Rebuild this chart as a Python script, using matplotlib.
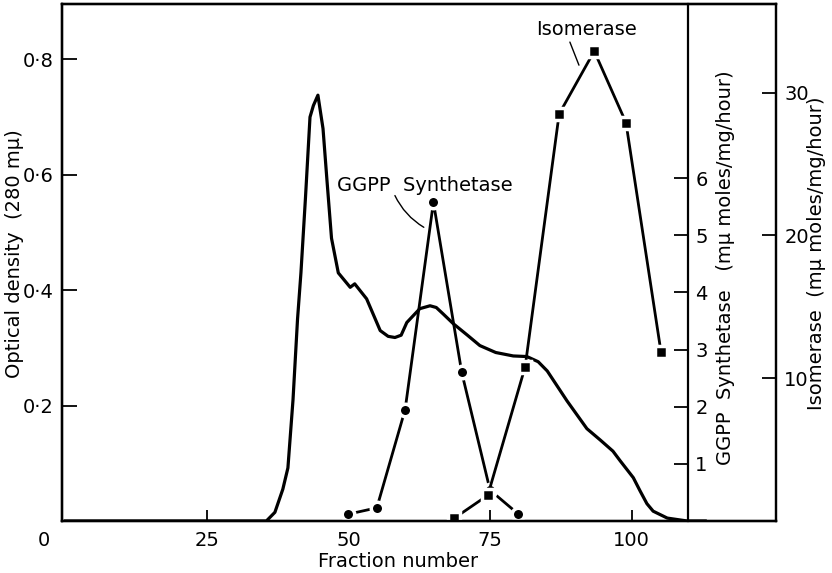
import numpy as np
import matplotlib
matplotlib.use('Agg')
import matplotlib.pyplot as plt

plt.rc('font', family='DejaVu Sans', size=14)

# optical density (280 mu) along the column
od_frac = [0, 35.5, 37.0, 38.4, 39.3, 40.2, 41.0, 41.6, 42.4, 43.2, 43.8, 44.6,
           45.5, 46.2, 47.0, 48.2, 50.3, 51.1, 53.2, 55.6, 57.0, 58.2, 59.3,
           60.3, 62.6, 64.4, 65.5, 66.7, 68.5, 71.0, 73.2, 76.0, 79.1, 81.5,
           83.5, 85.1, 88.6, 92.1, 94.5, 96.7, 98.0, 100.3, 101.5, 102.7,
           103.8, 106.3, 109.8, 113.0]
od_val = [0, 0, 0.015, 0.055, 0.092, 0.21, 0.35, 0.43, 0.56, 0.70, 0.72, 0.738,
          0.68, 0.59, 0.49, 0.43, 0.405, 0.411, 0.385, 0.33, 0.32, 0.318, 0.322,
          0.344, 0.368, 0.373, 0.37, 0.359, 0.342, 0.322, 0.304, 0.292, 0.286,
          0.285, 0.276, 0.26, 0.208, 0.16, 0.14, 0.121, 0.104, 0.075, 0.052,
          0.03, 0.017, 0.005, 0.0, 0.0]

# GGPP synthetase activity (circles)
ggpp_frac = [50, 55, 60, 65, 70, 75, 80]
ggpp_act = [0.12, 0.23, 1.95, 5.58, 2.6, 0.54, 0.12]

# isomerase activity (squares)
iso_frac = [68.7, 74.6, 81.2, 87.2, 93.4, 99.0, 105.2]
iso_act = [0.2, 1.8, 10.8, 28.5, 32.9, 27.9, 11.8]

od_ticks = [0.2, 0.4, 0.6, 0.8]
od_labels = ['0·2', '0·4', '0·6', '0·8']
frac_ticks = [25, 50, 75, 100]
ggpp_ticks = [1, 2, 3, 4, 5, 6]
iso_ticks = [10, 20, 30]

fig = plt.figure(figsize=(8.32, 5.73), dpi=100)
ax = fig.add_axes([0.0745, 0.0908, 0.8582, 0.9022])
ax2 = ax.twinx()
ax3 = ax.twinx()

ax.set_xlim(-0.6, 125.5)
ax.set_ylim(0, 0.896)
ax2.set_ylim(0, 9.05)
ax3.set_ylim(0, 36.2)

for a in (ax, ax2, ax3):
    for s in a.spines.values():
        s.set_linewidth(1.6)

ax.plot(od_frac, od_val, color='k', lw=2.3, solid_joinstyle='round')

ax2.plot(ggpp_frac, ggpp_act, color='k', lw=2.0, marker='o', ms=9,
         mfc='k', mec='white', mew=2.5)
ax3.plot(iso_frac, iso_act, color='k', lw=2.0, marker='s', ms=8.5,
         mfc='k', mec='white', mew=2.5)

# left / bottom axes
ax.set_xticks(frac_ticks)
ax.set_xticklabels([str(t) for t in frac_ticks])
ax.set_yticks(od_ticks)
ax.set_yticklabels(od_labels)
ax.tick_params(axis='x', direction='in', length=8, width=1.3, pad=7)
ax.tick_params(axis='y', direction='in', length=11, width=1.3, pad=6,
               right=False)
ax.text(-0.025, -0.02, '0', transform=ax.transAxes, ha='center', va='top',
        fontsize=14)
ax.text(-0.067, 0.518, 'Optical density  (280 m\u03bc)', transform=ax.transAxes,
        rotation=90, ha='center', va='center')
ax.text(0.47, -0.06, 'Fraction number', transform=ax.transAxes,
        ha='center', va='top')

# GGPP synthetase scale on an inner spine
ax2.spines['right'].set_position(('data', 110))
ax2.set_yticks(ggpp_ticks)
ax2.tick_params(axis='y', direction='in', length=10, width=1.3, pad=5)
ax2.text(0.9286, 0.489, 'GGPP  Synthetase   (m\u03bc moles/mg/hour)',
         transform=ax2.transAxes, rotation=90, ha='center', va='center')

# isomerase scale on the outer spine
ax3.set_yticks(iso_ticks)
ax3.tick_params(axis='y', direction='in', length=10, width=1.3, pad=6)
ax3.text(1.057, 0.518, 'Isomerase  (m\u03bc moles/mg/hour)',
         transform=ax3.transAxes, rotation=90, ha='center', va='center')

# curve labels with leader lines
ax.text(48.0, 0.582, 'GGPP  Synthetase', ha='left', va='center')
ax.annotate('', xy=(63.3, 0.509), xytext=(58.2, 0.564),
            arrowprops=dict(arrowstyle='-', lw=1.0, color='k',
                            connectionstyle='arc3,rad=0.15',
                            shrinkA=0, shrinkB=0))
ax.text(92.1, 0.851, 'Isomerase', ha='center', va='center')
ax.annotate('', xy=(90.7, 0.79), xytext=(89.1, 0.83),
            arrowprops=dict(arrowstyle='-', lw=1.0, color='k',
                            shrinkA=0, shrinkB=0))

fig.savefig('out.png', dpi=100)
